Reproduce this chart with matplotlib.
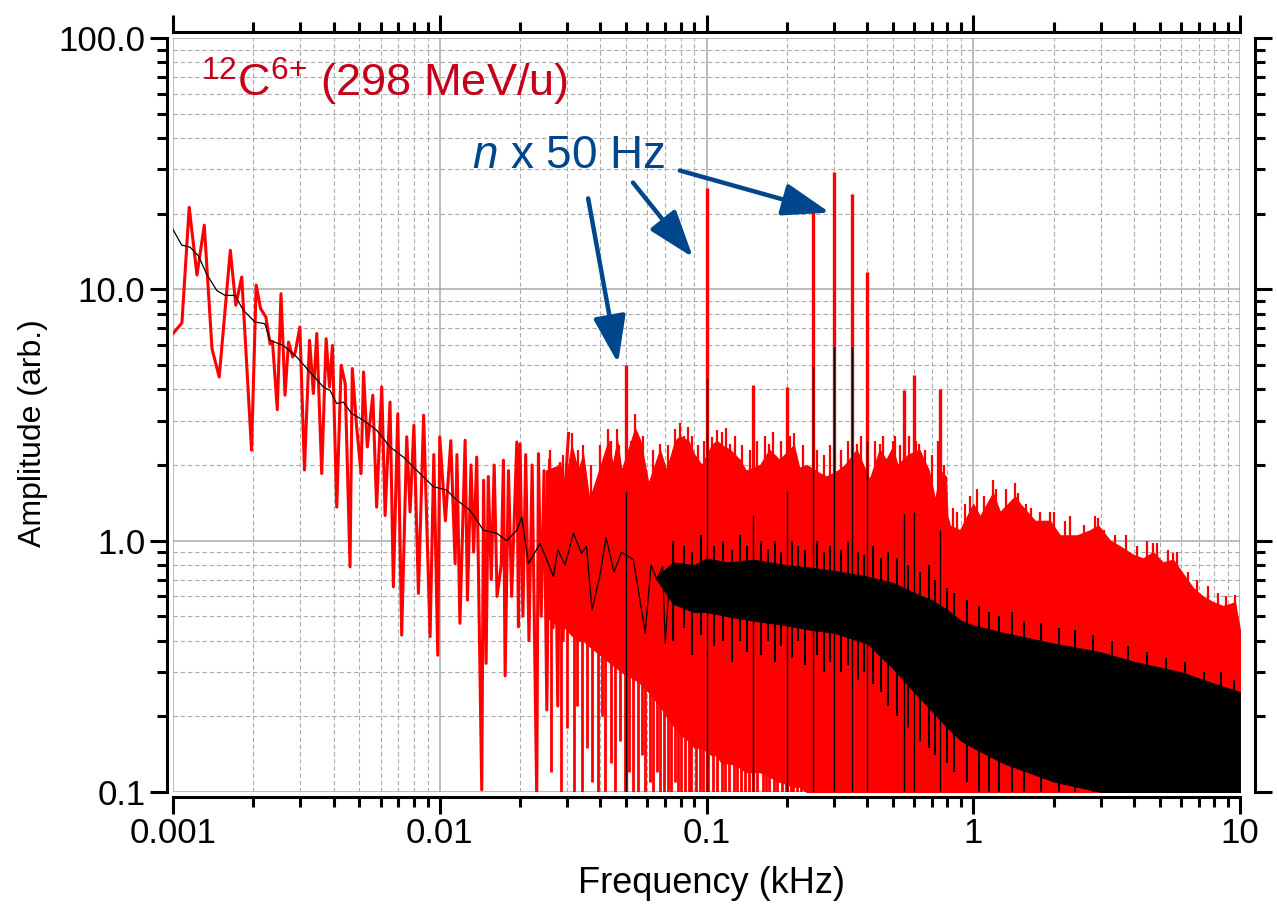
import matplotlib
matplotlib.use("Agg")
import matplotlib.pyplot as plt
from matplotlib.ticker import LogLocator, NullFormatter, FixedLocator, FixedFormatter

# ---------------- data (frequency in kHz, amplitude arb.) ----------------
# red spectrum, low-frequency part (individual lines)
red_lf_f = [0.00100, 0.00108, 0.00115, 0.00123, 0.00131, 0.00140, 0.00149, 0.00164, 0.00172, 0.00181,
            0.00197, 0.00205, 0.00213, 0.00223, 0.00231, 0.00236, 0.00246, 0.00254, 0.00263, 0.00271,
            0.00281, 0.00287, 0.00299, 0.00311, 0.00325, 0.00336, 0.00346, 0.00361, 0.00375, 0.00386,
            0.00396, 0.00411, 0.00427, 0.00442, 0.00461, 0.00470, 0.00488, 0.00507, 0.00518, 0.00535,
            0.00561, 0.00580, 0.00606, 0.00624, 0.00651, 0.00670, 0.00696, 0.00720, 0.00752, 0.00774,
            0.00800, 0.00832, 0.00870, 0.00920, 0.00950, 0.00983, 0.01000, 0.01050, 0.01100, 0.01142,
            0.01160, 0.01190, 0.01245, 0.01270, 0.01310, 0.01340, 0.01376, 0.01437, 0.01460, 0.01492,
            0.01520, 0.01560, 0.01600, 0.01640, 0.01700, 0.01733, 0.01758, 0.01810, 0.01860, 0.01945,
            0.01972, 0.02000, 0.02050, 0.02100, 0.02160, 0.02220, 0.02310, 0.02344, 0.02400, 0.02460,
            0.02520, 0.02580, 0.02660, 0.02700, 0.02770, 0.02826, 0.02900, 0.02970, 0.03040]
red_lf_a = [6.67, 7.35, 21.2, 11.4, 18.0, 5.81, 4.48, 14.3, 8.64, 11.2,
            2.29, 10.4, 8.38, 7.76, 6.08, 6.2, 3.32, 9.61, 3.79, 6.17,
            5.38, 5.6, 7.08, 1.91, 6.27, 3.85, 6.67, 1.85, 6.36, 4.09,
            5.98, 1.36, 4.99, 4.22, 0.787, 4.84, 2.84, 1.85, 4.69, 2.36,
            3.79, 1.36, 4.09, 1.26, 3.56, 0.655, 3.2, 0.421, 2.59, 1.3,
            2.88, 0.617, 3.16, 0.415, 2.2, 0.35, 2.59, 1.2, 2.5, 0.81,
            2.2, 0.469, 2.51, 0.58, 2.0, 0.9, 2.15, 0.102, 1.74, 0.325,
            1.8, 0.7, 2.0, 0.6, 0.8, 2.09, 0.29, 1.9, 0.6, 2.47,
            0.454, 2.43, 0.5, 2.2, 0.4, 2.0, 0.095, 2.22, 0.5, 1.9,
            0.212, 2.1, 0.45, 1.8, 0.22, 2.03, 0.4, 1.8, 2.67]

# red spectrum, dense part: envelope of the filled band
red_core_f = [0.0250, 0.0282, 0.0295, 0.0312, 0.0330, 0.0345, 0.0364, 0.0388, 0.0429, 0.0445,
              0.0463, 0.0480, 0.0540, 0.0565, 0.0606, 0.0669, 0.0708, 0.0762, 0.0796, 0.0855,
              0.0901, 0.0960, 0.1046, 0.1092, 0.1140, 0.1225, 0.1333, 0.1406, 0.1587, 0.1720,
              0.1876, 0.2127, 0.2227, 0.2374, 0.2672, 0.2815, 0.3104, 0.3300, 0.3656, 0.4085,
              0.4458, 0.4716, 0.4981, 0.5200, 0.5700, 0.6283, 0.6818, 0.7201, 0.7500, 0.7900,
              0.8000, 0.8180, 0.8910, 1.000, 1.060, 1.186, 1.260, 1.435, 1.500, 1.704,
              1.940, 2.115, 2.450, 2.740, 2.940, 3.260, 3.550, 3.970, 4.330, 4.720,
              5.140, 5.610, 6.110, 6.660, 7.270, 7.920, 8.630, 9.180, 9.580, 10.00]
red_core_hi = [1.9, 2.0, 1.69, 2.4, 1.9, 2.2, 1.45, 1.79, 2.5, 2.0,
               2.5, 1.9, 2.8, 2.5, 1.69, 2.3, 1.9, 2.5, 2.6, 2.5,
               2.2, 2.0, 2.4, 2.5, 2.4, 2.3, 2.1, 1.9, 2.0, 2.3,
               2.1, 2.4, 1.95, 2.0, 1.85, 1.8, 1.9, 2.0, 2.3, 1.75,
               2.3, 2.1, 2.35, 2.0, 2.2, 2.3, 1.9, 1.45, 1.9, 1.8,
               1.25, 1.15, 1.1, 1.4, 1.25, 1.55, 1.3, 1.5, 1.4, 1.2,
               1.2, 1.05, 1.05, 1.1, 1.15, 1.0, 0.95, 0.88, 0.85, 0.9,
               0.82, 0.84, 0.74, 0.65, 0.6, 0.57, 0.55, 0.56, 0.57, 0.44]
red_core_lo = [0.5, 0.45, 0.45, 0.42, 0.4, 0.4, 0.38, 0.36, 0.33, 0.32,
               0.31, 0.3, 0.28, 0.27, 0.25, 0.22, 0.2, 0.18, 0.17, 0.16,
               0.15, 0.15, 0.14, 0.14, 0.13, 0.13, 0.125, 0.12, 0.12, 0.115,
               0.11, 0.105, 0.105, 0.1, 0.1, 0.095, 0.09, 0.09, 0.09, 0.09,
               0.09, 0.09, 0.09, 0.09, 0.09, 0.09, 0.09, 0.09, 0.09, 0.09,
               0.09, 0.09, 0.09, 0.09, 0.09, 0.09, 0.09, 0.09, 0.09, 0.09,
               0.09, 0.09, 0.09, 0.09, 0.09, 0.09, 0.09, 0.09, 0.09, 0.09,
               0.09, 0.09, 0.09, 0.09, 0.09, 0.09, 0.09, 0.09, 0.09, 0.09]

# small red lines sticking out of the top of the band
red_fine_f = [0.026, 0.029, 0.0312, 0.033, 0.0345, 0.037, 0.040, 0.0429, 0.044, 0.0463, 0.047, 0.052, 0.054,
              0.058, 0.063, 0.0669, 0.072, 0.0762, 0.0796, 0.082, 0.0855, 0.088, 0.093, 0.098, 0.1046, 0.1092,
              0.114, 0.118, 0.1225, 0.128, 0.136, 0.145, 0.155, 0.165, 0.172, 0.178, 0.19, 0.205, 0.2127,
              0.23, 0.26, 0.275, 0.29, 0.32, 0.34, 0.3656, 0.38, 0.43, 0.4458, 0.46, 0.4981, 0.51, 0.53,
              0.575, 0.61, 0.6283, 0.66, 0.70, 0.74, 0.78, 0.84, 0.87, 0.93, 0.97, 1.03, 1.1, 1.186, 1.22,
              1.33, 1.435, 1.47, 1.58, 1.65, 1.78, 1.94, 2.0, 2.2, 2.3, 2.6, 2.85, 2.94, 3.1, 3.4, 3.75,
              4.1, 4.5, 4.72, 4.9, 5.35, 5.61, 5.8, 6.4, 6.9, 7.6, 8.3, 8.9, 9.58]
red_fine_a = [2.3, 2.2, 2.67, 2.3, 2.40, 2.0, 2.4, 2.79, 2.5, 2.79, 2.4, 2.5, 3.2,
              2.6, 2.3, 2.43, 2.4, 2.79, 2.93, 2.6, 2.84, 2.6, 2.4, 2.5, 2.58, 2.75,
              2.7, 2.8, 2.43, 2.6, 2.4, 2.3, 2.5, 2.6, 2.43, 2.7, 2.5, 2.6, 2.67,
              2.4, 2.3, 2.2, 2.4, 2.3, 2.5, 2.43, 2.6, 2.5, 2.43, 2.6, 2.5, 2.6, 2.4,
              2.6, 2.5, 2.43, 2.3, 2.2, 2.5, 2.0, 1.35, 1.3, 1.4, 1.5, 1.6, 1.5, 1.74, 1.6,
              1.6, 1.69, 1.55, 1.4, 1.35, 1.3, 1.3, 1.3, 1.2, 1.25, 1.15, 1.25, 1.23, 1.1, 1.05, 1.05,
              0.95, 1.0, 0.98, 0.98, 0.92, 0.89, 0.9, 0.75, 0.7, 0.66, 0.62, 0.6, 0.61]

# red upward spikes (n x 50 Hz lines and other tall lines)
red_spike_f = [0.05, 0.10, 0.15, 0.20, 0.25, 0.30, 0.35, 0.40, 0.55, 0.60, 0.75]
red_spike_a = [4.99, 25.2, 4.15, 4.10, 21.0, 29.3, 24.0, 11.7, 3.97, 4.55, 4.03]

# red downward dips (lines reaching towards the bottom)
red_dip_f = [0.0262, 0.0285, 0.0301, 0.0318, 0.0327, 0.0342, 0.0358, 0.0371, 0.0392, 0.0405,
             0.0418, 0.0438, 0.0452, 0.0472, 0.0495, 0.0512, 0.0531, 0.0552, 0.0572, 0.0589,
             0.0615, 0.0632, 0.0655, 0.0672, 0.0695, 0.0718, 0.0735, 0.0762, 0.0785, 0.0805,
             0.0832, 0.0862, 0.0878, 0.0915, 0.0948, 0.0972, 0.1012, 0.1055, 0.1098, 0.1148,
             0.1172, 0.1215, 0.1265, 0.1302, 0.1345, 0.1392, 0.1438, 0.1495, 0.1545, 0.1622,
             0.1665, 0.1712, 0.1798, 0.1838, 0.1912, 0.1985, 0.2075, 0.2118, 0.2192, 0.2265,
             0.2345, 0.2475, 0.2585, 0.2662, 0.2778, 0.2905, 0.3052]
red_dip_a = [0.12, 0.09, 0.18, 0.10, 0.22, 0.09, 0.15, 0.11, 0.09, 0.20,
             0.09, 0.13, 0.09, 0.16, 0.09, 0.12, 0.10, 0.09, 0.14, 0.09,
             0.11, 0.09, 0.12, 0.09, 0.10, 0.09, 0.09, 0.11, 0.09, 0.09,
             0.10, 0.09, 0.09, 0.09, 0.09, 0.09, 0.09, 0.09, 0.09, 0.09,
             0.09, 0.09, 0.09, 0.09, 0.09, 0.09, 0.09, 0.09, 0.09, 0.09,
             0.09, 0.09, 0.09, 0.09, 0.09, 0.09, 0.09, 0.09, 0.09, 0.09,
             0.09, 0.09, 0.09, 0.09, 0.09, 0.09, 0.09]

# black (averaged) spectrum, low-frequency line
black_lf_f = [0.00100, 0.001078, 0.00116, 0.001245, 0.001337, 0.001458, 0.001567, 0.001708, 0.001835, 0.00203,
              0.00221, 0.00231, 0.00259, 0.00291, 0.00326, 0.00366, 0.00388, 0.00411, 0.00435, 0.00468,
              0.00518, 0.00580, 0.00651, 0.00731, 0.00843, 0.00946, 0.01060, 0.01159, 0.01300, 0.01458,
              0.01636, 0.01782, 0.01945, 0.02030, 0.02150, 0.02378, 0.02670, 0.02770, 0.02950, 0.03170,
              0.03400, 0.03550, 0.03720, 0.03980, 0.04200, 0.04500, 0.04800, 0.05320, 0.05600, 0.05890,
              0.06200, 0.06510, 0.06850, 0.07000, 0.07300]
black_lf_a = [17.3, 15.0, 14.7, 13.6, 11.5, 9.9, 9.46, 9.46, 8.25, 7.41,
              7.3, 6.27, 5.98, 5.38, 4.69, 4.09, 3.96, 3.51, 3.56, 3.2,
              3.01, 2.75, 2.36, 2.15, 1.85, 1.64, 1.59, 1.45, 1.32, 1.10,
              1.07, 1.0, 1.1, 1.24, 0.81, 0.974, 0.72, 0.92, 0.8, 1.07,
              0.89, 0.95, 0.53, 0.72, 1.03, 0.75, 0.9, 0.84, 0.6, 0.43,
              0.8, 0.70, 0.79, 0.39, 0.75]

# black spectrum, dense part: envelope of the filled band
black_core_f = [0.065, 0.075, 0.090, 0.100, 0.120, 0.150, 0.200, 0.250, 0.300, 0.400,
                0.500, 0.600, 0.700, 0.800, 0.900, 1.000, 1.300, 1.600, 2.000, 3.000,
                4.000, 6.000, 8.000, 10.00]
black_core_hi = [0.72, 0.82, 0.8, 0.85, 0.82, 0.84, 0.8, 0.78, 0.76, 0.72,
                 0.68, 0.62, 0.58, 0.53, 0.48, 0.46, 0.43, 0.41, 0.39, 0.36,
                 0.33, 0.30, 0.27, 0.25]
black_core_lo = [0.70, 0.56, 0.52, 0.52, 0.5, 0.48, 0.46, 0.44, 0.43, 0.39,
                 0.31, 0.25, 0.21, 0.18, 0.16, 0.15, 0.13, 0.12, 0.11, 0.10,
                 0.09, 0.09, 0.09, 0.09]

# black noise excursions (low end, high end)
black_noise_f = [0.075, 0.082, 0.088, 0.095, 0.107, 0.115, 0.125, 0.133, 0.142, 0.160,
                 0.170, 0.180, 0.190, 0.210, 0.220, 0.235, 0.260, 0.275, 0.290, 0.320,
                 0.340, 0.370, 0.390, 0.420, 0.450, 0.480, 0.520, 0.570, 0.630, 0.680,
                 0.720, 0.800, 0.850, 0.950, 1.050, 1.150, 1.250, 1.400, 1.550, 1.800,
                 2.100, 2.400, 2.800, 3.300, 3.800, 4.500, 5.300, 6.200, 7.300, 8.500, 9.500]
black_noise_lo = [0.40, 0.45, 0.35, 0.42, 0.38, 0.40, 0.33, 0.40, 0.36, 0.35,
                  0.40, 0.33, 0.38, 0.34, 0.40, 0.32, 0.35, 0.30, 0.33, 0.30,
                  0.32, 0.28, 0.30, 0.27, 0.25, 0.22, 0.20, 0.18, 0.16, 0.15,
                  0.14, 0.13, 0.12, 0.11, 0.10, 0.10, 0.09, 0.09, 0.09, 0.09,
                  0.09, 0.09, 0.09, 0.09, 0.09, 0.09, 0.09, 0.09, 0.09, 0.09, 0.09]
black_noise_hi = [1.00, 0.95, 0.90, 1.05, 0.95, 1.00, 0.92, 1.05, 0.95, 1.00,
                  0.93, 1.00, 0.90, 1.00, 0.95, 0.92, 1.00, 0.90, 0.95, 0.92,
                  1.00, 0.90, 0.88, 0.95, 0.85, 0.90, 0.85, 0.80, 0.75, 0.80,
                  0.70, 0.65, 0.62, 0.58, 0.55, 0.52, 0.50, 0.52, 0.48, 0.47,
                  0.45, 0.44, 0.42, 0.40, 0.38, 0.36, 0.34, 0.33, 0.30, 0.30, 0.28]

# black spikes at the mains harmonics
black_spike_f = [0.05, 0.10, 0.15, 0.20, 0.25, 0.30, 0.35, 0.40, 0.55, 0.60, 0.75]
black_spike_a = [1.58, 4.45, 1.26, 1.58, 4.9, 5.9, 5.9, 2.5, 1.28, 1.3, 1.1]

x_ticks = [0.001, 0.01, 0.1, 1, 10]
x_ticklabels = ["0.001", "0.01", "0.1", "1", "10"]
y_ticks = [0.1, 1, 10, 100]
y_ticklabels = ["0.1", "1.0", "10.0", "100.0"]

# ---------------- styling ----------------
plt.rcParams['font.family'] = ['Liberation Sans', 'DejaVu Sans']
plt.rcParams['mathtext.fontset'] = 'custom'
plt.rcParams['mathtext.rm'] = 'Liberation Sans'
plt.rcParams['mathtext.it'] = 'Liberation Sans:italic'

RED = '#ff0000'
TXT_RED = '#c4001a'
BLUE = '#00468c'

W, H = 1277, 906
fig = plt.figure(figsize=(W / 100, H / 100), dpi=100)
ax = fig.add_axes([173 / W, 1 - 792 / H, (1240 - 173) / W, (792 - 38) / H])
ax.set_xscale('log')
ax.set_yscale('log')
ax.set_xlim(0.001, 10)
ax.set_ylim(0.1, 100)

# grid
ax.grid(True, which='major', color='#a8a8a8', lw=1.1, ls='-', zorder=0)
ax.grid(True, which='minor', color='#ababab', lw=0.8, ls=(0, (4, 2.5)), zorder=0)
ax.set_axisbelow(True)

# red trace
ax.plot(red_lf_f, red_lf_a, color=RED, lw=2.2, zorder=2)
ax.fill_between(red_core_f, red_core_lo, red_core_hi, color=RED, lw=0.8, zorder=2)
ax.vlines(red_fine_f, 0.5, red_fine_a, color=RED, lw=1.6, zorder=2)
ax.vlines(red_spike_f, 0.09, red_spike_a, color=RED, lw=2.4, zorder=2)
ax.vlines(red_dip_f, red_dip_a, 0.5, color=RED, lw=2.0, zorder=2)

# black trace
ax.plot(black_lf_f, black_lf_a, color='black', lw=0.9, zorder=3)
ax.fill_between(black_core_f, black_core_lo, black_core_hi, color='black', lw=0.6, zorder=3)
ax.vlines(black_noise_f, black_noise_lo, black_noise_hi, color='black', lw=1.5, zorder=3)
ax.vlines(black_spike_f, 0.09, black_spike_a, color='black', lw=1.0, zorder=3)

# axes styling (offset axes)
for side, off in (('left', 4.3), ('bottom', 3.6), ('top', 4.3), ('right', 10.8)):
    ax.spines[side].set_position(('outward', off))
    ax.spines[side].set_linewidth(2.2)

ax.xaxis.set_major_locator(FixedLocator(x_ticks))
ax.xaxis.set_major_formatter(FixedFormatter(x_ticklabels))
ax.yaxis.set_major_locator(FixedLocator(y_ticks))
ax.yaxis.set_major_formatter(FixedFormatter(y_ticklabels))
ax.xaxis.set_minor_locator(LogLocator(base=10, subs=range(2, 10), numticks=20))
ax.yaxis.set_minor_locator(LogLocator(base=10, subs=range(2, 10), numticks=20))
ax.xaxis.set_minor_formatter(NullFormatter())
ax.yaxis.set_minor_formatter(NullFormatter())

ax.tick_params(which='both', direction='out', top=True, right=True,
               labeltop=False, labelright=False, width=2.2)
ax.tick_params(which='major', length=12.5, labelsize=25, pad=2)
ax.tick_params(which='minor', length=7.5)
ax.tick_params(axis='y', which='major', pad=3)

ax.set_xlabel('Frequency (kHz)', fontsize=26, va='center')
ax.xaxis.set_label_coords(0.505, -0.122)
ax.set_ylabel('Amplitude (arb.)', fontsize=23, va='center')
ax.yaxis.set_label_coords(-0.131, 0.476)

# annotations
ax.text(0.026, 0.922, r'$\mathregular{^{12}C^{6{+}}}$ (298 MeV/u)', transform=ax.transAxes,
        fontsize=32.5, color=TXT_RED, ha='left', va='baseline', zorder=5)
ax.text(0.280, 0.828, r'$\mathit{n}$ x 50 Hz', transform=ax.transAxes,
        fontsize=33, color=BLUE, ha='left', va='baseline', zorder=5)

arrow_style = '-|>,head_length=2.9,head_width=1.0'
arrows = [((0.0360, 23.0), (0.0466, 5.08)),
          ((0.0530, 26.6), (0.0890, 13.4)),
          ((0.0794, 29.7), (0.290, 20.2))]
for start, tip in arrows:
    ax.annotate('', xy=tip, xytext=start, xycoords='data', textcoords='data',
                arrowprops=dict(arrowstyle=arrow_style, mutation_scale=10, lw=3.2,
                                color=BLUE, shrinkA=0, shrinkB=0),
                zorder=6)

fig.savefig('out.png', dpi=100)
